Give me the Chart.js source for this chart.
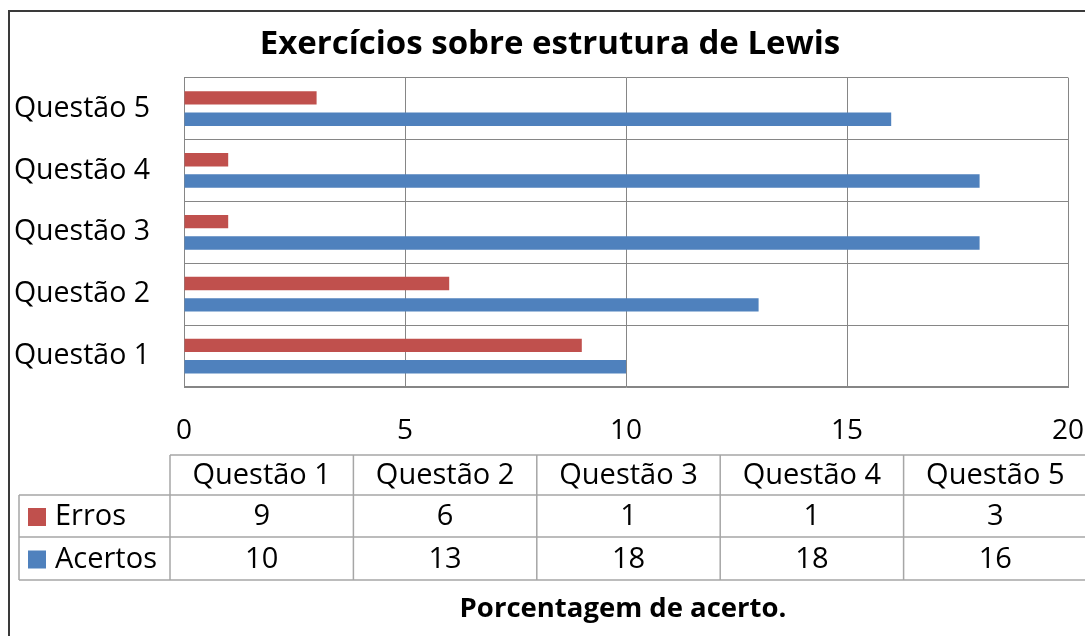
<!DOCTYPE html>
<html>
<head>
<meta charset="utf-8">
<script src="https://cdn.jsdelivr.net/npm/chart.js@4"></script>
<style>
  html, body { margin: 0; padding: 0; background: #fff; overflow: hidden; }
  canvas { display: block; }
</style>
</head>
<body>
<canvas id="chart" width="1085" height="636"></canvas>
<script>
const categories = ["Questão 1", "Questão 2", "Questão 3", "Questão 4", "Questão 5"]
const erros = [9, 6, 1, 1, 3]
const acertos = [10, 13, 18, 18, 16]
const xTicks = [0, 5, 10, 15, 20]
const chartTitle = "Exercícios sobre estrutura de Lewis"
const axisTitle = "Porcentagem de acerto."

const FONT = "'Open Sans', 'DejaVu Sans', sans-serif"
const RED = "#C0504D"
const BLUE = "#4F81BD"
const GRID = "#868686"
const TABLE_LINE = "#A6A6A6"

// white background + the outer frame of the picture
const framePlugin = {
  id: "frame",
  beforeDraw(chart) {
    const ctx = chart.ctx
    ctx.save()
    ctx.fillStyle = "#fff"
    ctx.fillRect(0, 0, chart.width, chart.height)
    ctx.strokeStyle = "#3a3a3a"
    ctx.lineWidth = 2
    ctx.beginPath()
    ctx.moveTo(9, chart.height)
    ctx.lineTo(9, 11)
    ctx.lineTo(chart.width, 11)
    ctx.stroke()
    ctx.restore()
  }
}

// data table under the axis, with legend keys
const tablePlugin = {
  id: "dataTable",
  afterDraw(chart) {
    const ctx = chart.ctx
    const left = 19
    const keyColRight = 170
    const colW = 183.4
    const rowTops = [455, 495, 537, 580]
    const rows = chart.data.datasets

    ctx.save()
    ctx.strokeStyle = TABLE_LINE
    ctx.lineWidth = 1.5

    // horizontal lines
    ctx.beginPath()
    ctx.moveTo(keyColRight, rowTops[0]); ctx.lineTo(chart.width + 2, rowTops[0])
    for (let r = 1; r < rowTops.length; r++) {
      ctx.moveTo(left, rowTops[r]); ctx.lineTo(chart.width + 2, rowTops[r])
    }
    // vertical lines
    ctx.moveTo(left, rowTops[1]); ctx.lineTo(left, rowTops[3])
    for (let c = 0; c <= categories.length; c++) {
      const x = keyColRight + c * colW
      ctx.moveTo(x, rowTops[0]); ctx.lineTo(x, rowTops[3])
    }
    ctx.stroke()

    ctx.fillStyle = "#000"
    ctx.font = "29px " + FONT
    ctx.textBaseline = "middle"
    ctx.textAlign = "center"

    categories.forEach((cat, i) => {
      const cx = keyColRight + i * colW + colW / 2
      ctx.fillText(cat, cx, (rowTops[0] + rowTops[1]) / 2 + 1)
    })

    rows.forEach((ds, r) => {
      const cy = (rowTops[r + 1] + rowTops[r + 2]) / 2 + 1
      ds.data.forEach((v, i) => {
        const cx = keyColRight + i * colW + colW / 2
        ctx.fillText(String(v), cx, cy)
      })
      // legend key
      ctx.fillStyle = ds.backgroundColor
      ctx.fillRect(28, cy - 9, 18, 18)
      ctx.fillStyle = "#000"
      ctx.textAlign = "left"
      ctx.fillText(ds.label, 55, cy)
      ctx.textAlign = "center"
    })

    // axis title
    const area = chart.chartArea
    ctx.font = "bold 27.5px " + FONT
    ctx.fillText(axisTitle, (area.left + area.right) / 2 - 3, 609)
    ctx.restore()
  }
}

const chart = new Chart(document.getElementById("chart"), {
  type: "bar",
  data: {
    labels: categories,
    datasets: [
      { label: "Erros", data: erros, backgroundColor: RED, borderWidth: 0 },
      { label: "Acertos", data: acertos, backgroundColor: BLUE, borderWidth: 0 }
    ]
  },
  options: {
    indexAxis: "y",
    responsive: false,
    animation: false,
    categoryPercentage: 0.69,
    barPercentage: 0.63,
    // left padding only shifts the title centre; y axis width is trimmed to match
    layout: { padding: { left: 15, right: 0, top: 0, bottom: 0 } },
    plugins: {
      legend: { display: false },
      tooltip: { enabled: false },
      title: {
        display: true,
        text: chartTitle,
        color: "#000",
        font: { family: FONT, size: 33, weight: "bold" },
        padding: { top: 25, bottom: 13 }
      }
    },
    scales: {
      x: {
        min: 0,
        max: 20,
        afterBuildTicks: (scale) => {
          scale.ticks = xTicks.map((v) => ({ value: v }))
        },
        afterFit: (scale) => {
          scale.height = 249
          scale.paddingLeft = 0
          scale.paddingRight = 17
        },
        grid: { color: GRID, drawTicks: false },
        border: { display: true, color: GRID },
        ticks: {
          color: "#000",
          padding: 27,
          maxRotation: 0,
          font: { family: FONT, size: 28 }
        }
      },
      y: {
        reverse: true,
        afterFit: (scale) => { scale.width = 169 },
        grid: { color: GRID, drawTicks: false },
        border: { display: true, color: GRID },
        ticks: {
          color: "#000",
          padding: 34,
          font: { family: FONT, size: 28.5 }
        }
      }
    }
  },
  plugins: [framePlugin, tablePlugin]
})
</script>
</body>
</html>
